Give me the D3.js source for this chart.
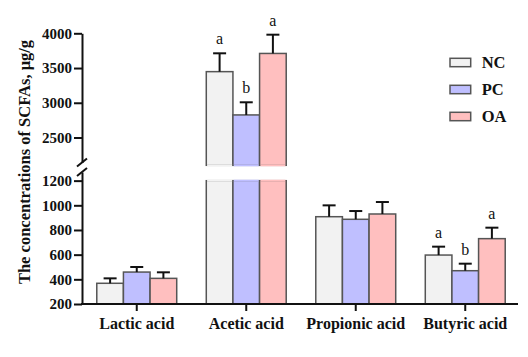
<!DOCTYPE html>
<html><head><meta charset="utf-8">
<script src="https://cdn.jsdelivr.net/npm/d3@7"></script>
<style>body{margin:0;background:#fff}svg{display:block}text{font-family:"Times New Roman","Liberation Serif",serif}</style>
</head><body><svg id="c" width="528" height="357"></svg>
<script>
const categories = ["Lactic acid","Acetic acid","Propionic acid","Butyric acid"];
const seriesNames = ["NC","PC","OA"];
const seriesColors = ["#f2f2f2","#bfbfff","#ffbfbf"];
const ncValues = [368, 3448, 908, 597];
const pcValues = [459, 2825, 887, 470];
const oaValues = [408, 3710, 930, 730];
const ncErr = [40, 264, 92, 68];
const pcErr = [41, 182, 67, 57];
const oaErr = [49, 270, 97, 89];
const ncLetters = ["", "a", "", "a"];
const pcLetters = ["", "b", "", "b"];
const oaLetters = ["", "a", "", "a"];
const lowerTicks = [200,400,600,800,1000,1200];
const upperTicks = [2500,3000,3500,4000];

const values = [ncValues, pcValues, oaValues];
const errs = [ncErr, pcErr, oaErr];
const letters = [ncLetters, pcLetters, oaLetters];

const svg = d3.select("#c");
const x = d3.scaleBand().domain(categories).range([82,520]).paddingInner(0.27).paddingOuter(0.135);
const xs = d3.scaleBand().domain(seriesNames).range([0, x.bandwidth()]);
const yLow = d3.scaleLinear().domain([200,1200]).range([304,180.7]);
const yUp = d3.scaleLinear().domain([2100,4000]).range([165.3,33.3]);
const y = v => v <= 1200 ? yLow(v) : yUp(v);

const data = [];
categories.forEach((c,i)=>seriesNames.forEach((s,j)=>data.push({c,s,j,v:values[j][i],e:errs[j][i],l:letters[j][i]})));

const g = svg.append("g");
g.selectAll("rect.low").data(data).join("rect")
  .attr("x", d=>x(d.c)+xs(d.s)).attr("width", xs.bandwidth())
  .attr("y", d=>yLow(Math.min(d.v,1200))).attr("height", d=>yLow(200)-yLow(Math.min(d.v,1200)))
  .attr("fill", d=>seriesColors[d.j]).attr("stroke", "#555").attr("stroke-width",1.5);
g.selectAll("line.cov").data(data.filter(d=>d.v>1200)).join("line")
  .attr("x1", d=>x(d.c)+xs(d.s)+0.8).attr("x2", d=>x(d.c)+xs(d.s)+xs.bandwidth()-0.8)
  .attr("y1", yLow(1200)).attr("y2", yLow(1200)).attr("stroke", d=>seriesColors[d.j]).attr("stroke-width",2);
const up = data.filter(d=>d.v>1200);
g.selectAll("rect.up").data(up).join("rect")
  .attr("x", d=>x(d.c)+xs(d.s)).attr("width", xs.bandwidth())
  .attr("y", d=>yUp(d.v)).attr("height", d=>yUp(2100)-yUp(d.v))
  .attr("fill", d=>seriesColors[d.j]).attr("stroke", "#555").attr("stroke-width",1.5);
g.selectAll("line.cov2").data(up).join("line")
  .attr("x1", d=>x(d.c)+xs(d.s)+0.8).attr("x2", d=>x(d.c)+xs(d.s)+xs.bandwidth()-0.8)
  .attr("y1", yUp(2100)).attr("y2", yUp(2100)).attr("stroke", d=>seriesColors[d.j]).attr("stroke-width",2);

const eg = g.selectAll("g.err").data(data).join("g").attr("stroke","#111").attr("stroke-width",2);
eg.append("line").attr("x1", d=>x(d.c)+xs(d.s)+xs.bandwidth()/2).attr("x2", d=>x(d.c)+xs(d.s)+xs.bandwidth()/2)
  .attr("y1", d=>y(d.v)).attr("y2", d=>y(d.v+d.e));
eg.append("line").attr("x1", d=>x(d.c)+xs(d.s)+xs.bandwidth()/2-6.5).attr("x2", d=>x(d.c)+xs(d.s)+xs.bandwidth()/2+6.5)
  .attr("y1", d=>y(d.v+d.e)).attr("y2", d=>y(d.v+d.e));
g.selectAll("text.let").data(data.filter(d=>d.l)).join("text")
  .attr("x", d=>x(d.c)+xs(d.s)+xs.bandwidth()/2).attr("y", d=>y(d.v+d.e)-9)
  .attr("text-anchor","middle").attr("font-size",16).attr("fill","#111").text(d=>d.l);

const axStyle = sel => { sel.attr("font-family",null);
  sel.selectAll("path,line").attr("stroke","#111").attr("stroke-width",2);
  sel.selectAll("text").attr("font-size",15).attr("font-weight","bold").attr("fill","#111"); };
const fmt = d3.format("d");
const yl = svg.append("g").attr("transform","translate(82,0)")
  .call(d3.axisLeft(yLow.copy().domain([200,1270]).range([304,172])).tickValues(lowerTicks).tickFormat(fmt).tickSize(8).tickPadding(2).tickSizeOuter(0));
axStyle(yl);
const yu = svg.append("g").attr("transform","translate(82,0)")
  .call(d3.axisLeft(yUp.copy().domain([2140,4000]).range([yUp(2140),33.3])).tickValues(upperTicks).tickFormat(fmt).tickSize(8).tickPadding(2).tickSizeOuter(0));
axStyle(yu);
const bk = svg.append("g").attr("stroke","#111").attr("stroke-width",2);
[yUp(2140), 172].forEach(yy=>bk.append("line").attr("x1",77).attr("x2",87).attr("y1",yy+4).attr("y2",yy-4));
const xa = svg.append("g").attr("transform","translate(0,304)")
  .call(d3.axisBottom(x).tickSize(7).tickPadding(7).tickSizeOuter(0));
axStyle(xa);
xa.select("path").attr("d","M81,0H518");
xa.selectAll("text").attr("font-size",16);

svg.append("text").attr("transform","translate(30,162) rotate(-90)").attr("text-anchor","middle")
  .attr("font-size",16.5).attr("font-weight","bold").attr("fill","#111").text("The concentrations of SCFAs, μg/g");

const lg = svg.append("g").selectAll("g").data(seriesNames).join("g")
  .attr("transform",(d,i)=>`translate(450,${62.5+i*27})`);
lg.append("rect").attr("x",0).attr("y",-4.2).attr("width",20.7).attr("height",8.4)
  .attr("fill",(d,i)=>seriesColors[i]).attr("stroke","#555").attr("stroke-width",1.5);
lg.append("text").attr("x",31.7).attr("y",0).attr("dy","0.35em").attr("font-size",16.5).attr("font-weight","bold").attr("fill","#111").text(d=>d);
</script></body></html>
